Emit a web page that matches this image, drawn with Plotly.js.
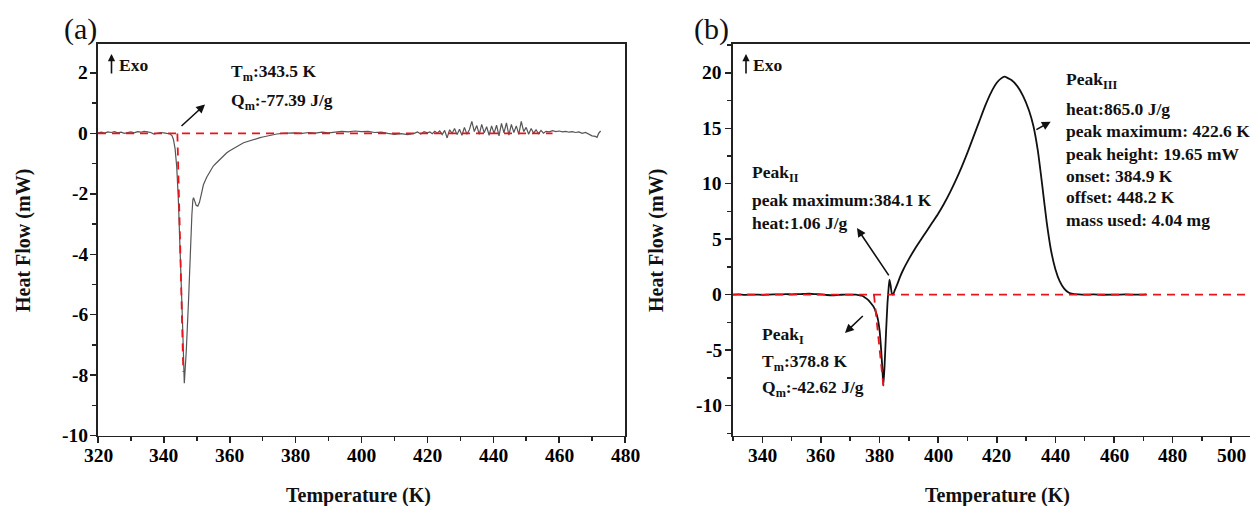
<!DOCTYPE html>
<html>
<head>
<meta charset="utf-8">
<script src="https://cdn.plot.ly/plotly-3.0.1.min.js"></script>
<style>
html, body { margin: 0; padding: 0; overflow: hidden; background: #fff; }
#chart { width: 1262px; height: 506px; }
</style>
</head>
<body>
<div id="chart"></div>
<script>
// ---------- Panel (a) data ----------
const tempA = [320, 321, 322, 323, 324, 325, 326, 327, 328, 329, 330, 331, 332, 333, 334, 335, 336, 337, 338, 339, 340, 341, 341.9, 342.5, 342.9, 343.4, 343.9, 344.4, 344.8, 345.1, 345.6, 346.2, 346.8, 347.5, 347.9, 348.2, 348.5, 348.8, 349.0, 349.4, 349.8, 350.3, 350.8, 351.4, 352, 353, 354, 355, 356, 357, 358, 359.1, 360, 361, 362, 363, 364.2, 365, 366, 367, 368, 369.2, 370, 372, 374.3, 376, 378, 379.4, 382, 384, 386, 388, 390, 392, 394, 396, 398, 400, 402, 404, 406, 408, 410, 412, 414, 416, 417, 418, 419, 420, 420.75, 421.5, 422.25, 423, 423.75, 424.5, 425.25, 426, 426.75, 427.5, 428.25, 429, 429.75, 430.5, 431.25, 432, 432.75, 433.5, 434.25, 435, 435.75, 436.5, 437.25, 438, 438.75, 439.5, 440.25, 441, 441.75, 442.5, 443.25, 444, 444.75, 445.5, 446.25, 447, 447.75, 448.5, 449.25, 450, 450.75, 451.5, 452.25, 453, 453.75, 454.5, 455.25, 456, 457, 458, 459, 460, 461, 462, 463, 464, 465, 466, 467, 468, 469, 470, 471, 471.5, 472, 472.6];
const heatA = [0.02, 0.04, 0.01, 0.05, 0.03, 0.06, 0.02, 0.04, 0.0, 0.03, 0.05, 0.02, 0.06, 0.04, 0.07, 0.05, 0.03, -0.02, 0.01, 0.03, 0.02, 0.0, -0.02, -0.08, -0.2, -0.5, -1.1, -2.2, -3.3, -4.6, -6.05, -8.27, -7.2, -5.5, -4.3, -3.3, -2.7, -2.2, -2.13, -2.25, -2.38, -2.41, -2.28, -2.0, -1.7, -1.45, -1.25, -1.08, -0.97, -0.86, -0.75, -0.64, -0.57, -0.5, -0.44, -0.38, -0.31, -0.28, -0.24, -0.2, -0.17, -0.14, -0.12, -0.07, -0.02, 0.0, 0.01, 0.02, 0.0, 0.03, 0.01, 0.04, 0.02, 0.05, 0.07, 0.05, 0.08, 0.06, 0.07, 0.03, 0.04, 0.0, -0.03, -0.01, -0.04, 0.0, 0.05, -0.02, 0.06, 0.02, 0.05, -0.01, 0.07, 0.01, 0.08, -0.04, 0.1, -0.15, 0.12, 0.0, 0.16, -0.04, 0.14, -0.06, 0.2, -0.03, 0.12, 0.4, 0.06, 0.26, -0.03, 0.3, 0.02, 0.22, -0.06, 0.25, 0.0, 0.27, -0.08, 0.33, 0.02, 0.35, -0.06, 0.3, 0.03, 0.25, -0.03, 0.4, 0.06, 0.2, -0.03, 0.16, 0.01, 0.12, -0.01, 0.1, 0.01, 0.07, 0.05, 0.09, 0.06, 0.08, 0.05, 0.07, 0.04, 0.06, 0.03, 0.05, 0.0, 0.03, -0.03, -0.08, -0.1, -0.13, 0.0, 0.08];
const baseA_x = [320, 458];
const baseA_y = [0, 0];
const tangA_x = [344.1, 345.9];
const tangA_y = [0, -7.9];

// ---------- Panel (b) data ----------
const tempB = [330, 332, 334, 336, 338, 340, 342, 344, 346, 348, 350, 352, 354, 356, 358, 360, 362, 364, 366, 368, 370, 372, 373, 374, 375, 376, 377, 378, 378.8, 379.5, 380, 380.5, 381, 381.3, 381.7, 382.2, 382.7, 383.1, 383.4, 383.8, 384.2, 384.6, 385.2, 386, 387, 388, 390, 392, 394, 396, 398, 400, 402, 404, 406, 408, 410, 412, 414, 416, 418, 420, 421.5, 422.6, 425, 427, 429, 431, 432.5, 434, 435.5, 437, 438.5, 440, 441.5, 443, 444.5, 446, 448, 450, 453, 456, 460, 464, 468, 471];
const heatB = [0.0, 0.02, -0.02, 0.01, 0.0, -0.02, 0.01, 0.03, 0.02, 0.04, 0.03, 0.05, 0.06, 0.08, 0.05, 0.02, -0.03, -0.06, -0.02, 0.0, 0.01, 0.0, -0.05, -0.1, -0.25, -0.45, -0.75, -1.1, -1.6, -2.3, -3.2, -4.8, -6.8, -8.2, -6.5, -3.5, -0.8, 0.6, 1.35, 0.8, 0.1, 0.0, 0.4, 0.9, 1.6, 2.2, 3.2, 4.1, 4.9, 5.7, 6.5, 7.3, 8.2, 9.2, 10.3, 11.5, 12.8, 14.2, 15.6, 17.0, 18.2, 19.1, 19.5, 19.65, 19.35, 18.8, 17.9, 16.6, 15.2, 13.0, 9.9, 6.6, 4.0, 2.3, 1.2, 0.55, 0.2, 0.06, 0.02, 0.0, 0.02, -0.01, 0.0, 0.02, 0.0, 0.03];
const baseB_x = [330, 512];
const baseB_y = [0, 0];
const tangB_x = [378.1, 381.3];
const tangB_y = [0, -8.2];

// ---------- Tick labels ----------
const xTicksA = [320, 340, 360, 380, 400, 420, 440, 460, 480];
const xTickTextA = ["320", "340", "360", "380", "400", "420", "440", "460", "480"];
const yTicksA = [2, 0, -2, -4, -6, -8, -10];
const yTickTextA = ["2", "0", "-2", "-4", "-6", "-8", "-10"];
const xTicksB = [340, 360, 380, 400, 420, 440, 460, 480, 500];
const xTickTextB = ["340", "360", "380", "400", "420", "440", "460", "480", "500"];
const yTicksB = [20, 15, 10, 5, 0, -5, -10];
const yTickTextB = ["20", "15", "10", "5", "0", "-5", "-10"];

// ---------- Texts ----------
const xTitle = "Temperature (K)";
const yTitle = "Heat Flow (mW)";
const textA = ["T<sub>m</sub>:343.5 K", "Q<sub>m</sub>:-77.39 J/g"];
const textPeakII = ["Peak<sub>II</sub>", "peak maximum:384.1 K", "heat:1.06 J/g"];
const textPeakI = ["Peak<sub>I</sub>", "T<sub>m</sub>:378.8 K", "Q<sub>m</sub>:-42.62 J/g"];
const textPeakIII = ["Peak<sub>III</sub>", "heat:865.0 J/g", "peak maximum: 422.6 K", "peak height: 19.65 mW", "onset: 384.9 K", "offset: 448.2 K", "mass used: 4.04 mg"];

// ---------- Layout helpers ----------
const W = 1262, H = 506;
const px = x => x / W;
const py = y => 1 - y / H;
const SERIF = "Liberation Serif, Times New Roman, serif";
const AX = '#222';
const RED = '#e8141c';
const B = s => '<b>' + s + '</b>';

const traces = [
  {x: tempA, y: heatA, xaxis: 'x', yaxis: 'y', mode: 'lines', line: {color: '#555', width: 1.2}, hoverinfo: 'skip'},
  {x: baseA_x, y: baseA_y, xaxis: 'x', yaxis: 'y', mode: 'lines', line: {color: RED, width: 1.8, dash: '8px,6px'}},
  {x: tangA_x, y: tangA_y, xaxis: 'x', yaxis: 'y', mode: 'lines', line: {color: RED, width: 1.8, dash: '8px,6px'}},
  {x: tempB, y: heatB, xaxis: 'x2', yaxis: 'y2', mode: 'lines', line: {color: '#111', width: 1.8, shape: 'spline', smoothing: 0.5}, hoverinfo: 'skip'},
  {x: baseB_x, y: baseB_y, xaxis: 'x2', yaxis: 'y2', mode: 'lines', line: {color: RED, width: 1.8, dash: '8px,6px'}},
  {x: tangB_x, y: tangB_y, xaxis: 'x2', yaxis: 'y2', mode: 'lines', line: {color: RED, width: 1.8, dash: '8px,6px'}}
];

function xAxis(domain, range, vals, anchor) {
  return {
    domain: domain, range: range, anchor: anchor,
    showline: true, linecolor: AX, linewidth: 1.6, mirror: true,
    ticks: 'outside', ticklen: 6, tickwidth: 1.5, tickcolor: AX,
    tickmode: 'array', tickvals: vals, showticklabels: false,
    minor: {ticks: 'outside', ticklen: 4, tickwidth: 1.5, tickcolor: AX, tickmode: 'linear', tick0: 320, dtick: 10},
    showgrid: false, zeroline: false, fixedrange: true
  };
}
function yAxis(range, vals, anchor, minorD) {
  return {
    domain: [py(435.5), py(44)], range: range, anchor: anchor,
    showline: true, linecolor: AX, linewidth: 1.6, mirror: true,
    ticks: 'outside', ticklen: 6, tickwidth: 1.5, tickcolor: AX,
    tickmode: 'array', tickvals: vals, showticklabels: false,
    minor: {ticks: 'outside', ticklen: 4, tickwidth: 1.5, tickcolor: AX, tickmode: 'linear', tick0: 0, dtick: minorD},
    showgrid: false, zeroline: false, fixedrange: true
  };
}

const annFont = {family: SERIF, size: 17.5, color: '#111'};
const tickFont = {family: SERIF, size: 19.5, color: '#000'};
const ann = [];
function txt(s, x, y, font) {
  ann.push({text: B(s), xref: 'paper', yref: 'paper', x: px(x), y: py(y), xanchor: 'left', yanchor: 'middle', showarrow: false, font: font || annFont});
}
function arrowData(xr, yr, hx, hy, tx, ty, w) {
  ann.push({text: '', xref: xr, yref: yr, axref: xr, ayref: yr, x: hx, y: hy, ax: tx, ay: ty, showarrow: true, arrowhead: 2, arrowsize: 1.1, arrowwidth: w || 1.6, arrowcolor: '#111'});
}
function exo(x, yTop, yBot) {
  ann.push({text: '', xref: 'paper', yref: 'paper', x: px(x), y: py(yTop), ax: 0, ay: yBot - yTop, showarrow: true, arrowhead: 2, arrowsize: 0.9, arrowwidth: 1.6, arrowcolor: '#111'});
}
// tick labels placed through the axes' own scales
function xLabels(xr, vals, texts) {
  vals.forEach((v, i) => ann.push({text: B(texts[i]), xref: xr, yref: 'paper', x: v, y: py(455), xanchor: 'center', yanchor: 'middle', showarrow: false, font: tickFont}));
}
function yLabels(yr, xPix, vals, texts) {
  vals.forEach((v, i) => ann.push({text: B(texts[i]), xref: 'paper', yref: yr, x: px(xPix), y: v, xanchor: 'right', yanchor: 'middle', showarrow: false, font: tickFont}));
}
xLabels('x', xTicksA, xTickTextA);
xLabels('x2', xTicksB, xTickTextB);
yLabels('y', 90, yTicksA, yTickTextA);
yLabels('y2', 724, yTicksB, yTickTextB);

// panel labels
ann.push({text: '(a)', xref: 'paper', yref: 'paper', x: px(80), y: py(29), xanchor: 'center', yanchor: 'middle', showarrow: false, font: {family: SERIF, size: 30, color: '#111'}});
ann.push({text: '(b)', xref: 'paper', yref: 'paper', x: px(712), y: py(29), xanchor: 'center', yanchor: 'middle', showarrow: false, font: {family: SERIF, size: 30, color: '#111'}});

// axis titles
const titleFont = {family: SERIF, size: 20, color: '#111'};
ann.push({text: B(xTitle), xref: 'paper', yref: 'paper', x: px(358), y: py(495), xanchor: 'center', yanchor: 'middle', showarrow: false, font: titleFont});
ann.push({text: B(xTitle), xref: 'paper', yref: 'paper', x: px(997), y: py(495), xanchor: 'center', yanchor: 'middle', showarrow: false, font: titleFont});
ann.push({text: B(yTitle), xref: 'paper', yref: 'paper', x: px(23), y: py(241), xanchor: 'center', yanchor: 'middle', textangle: -90, showarrow: false, font: titleFont});
ann.push({text: B(yTitle), xref: 'paper', yref: 'paper', x: px(656), y: py(241), xanchor: 'center', yanchor: 'middle', textangle: -90, showarrow: false, font: titleFont});

// Exo markers
exo(111.5, 54, 75);
txt('Exo', 117, 65);
exo(746, 54, 75);
txt('Exo', 751, 65);

// panel (a) annotations
txt(textA[0], 229, 72);
txt(textA[1], 229, 102);
arrowData('x', 'y', 352.5, 0.96, 344.9, 0.2);

// panel (b) annotations
[173, 200, 223].forEach((y, i) => txt(textPeakII[i], 750, y));
[335, 362, 388].forEach((y, i) => txt(textPeakI[i], 760, y));
[81, 109, 131.5, 153.5, 175.5, 197, 220].forEach((y, i) => txt(textPeakIII[i], 1064, y));
arrowData('x2', 'y2', 372.3, 6.0, 383.5, 1.6);
arrowData('x2', 'y2', 368.2, -3.45, 374.8, -1.8);
arrowData('x2', 'y2', 438.4, 15.6, 433.0, 14.8);

const layout = {
  width: W, height: H,
  margin: {l: 0, r: 0, t: 0, b: 0, pad: 0},
  paper_bgcolor: '#ffffff', plot_bgcolor: '#ffffff',
  showlegend: false,
  font: {family: SERIF, color: '#111'},
  xaxis: xAxis([px(98), px(625)], [320, 480], xTicksA, 'y'),
  yaxis: yAxis([-10, 2.96], yTicksA, 'x', 1),
  xaxis2: xAxis([px(733), 1], [330, 510.5], xTicksB, 'y2'),
  yaxis2: yAxis([-12.7, 22.6], yTicksB, 'x2', 2.5),
  annotations: ann
};

Plotly.newPlot('chart', traces, layout, {displayModeBar: false, staticPlot: true});
</script>
</body>
</html>
